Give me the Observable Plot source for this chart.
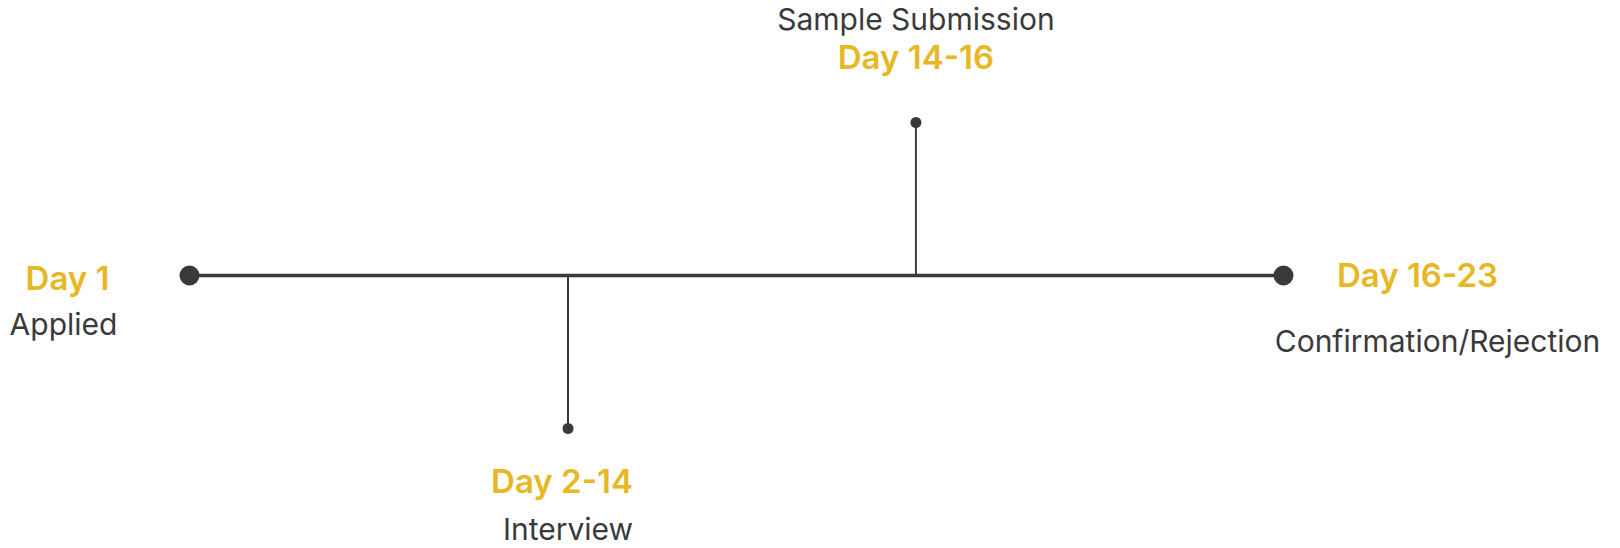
<!DOCTYPE html>
<html>
<head>
<meta charset="utf-8">
<script src="https://cdn.jsdelivr.net/npm/d3@7"></script>
<script src="https://cdn.jsdelivr.net/npm/@observablehq/plot@0.6"></script>
<style>
  html, body { margin: 0; padding: 0; background: #ffffff; }
  #chart svg { display: block; }
</style>
</head>
<body>
<div id="chart"></div>
<script>
// ---- data ----
const stages = ["Applied", "Interview", "Sample Submission", "Confirmation/Rejection"];
const dayLabels = ["Day 1", "Day 2-14", "Day 14-16", "Day 16-23"];
const timelinePos = [0, 34.6, 66.4, 100];   // position along the timeline
const stemSide = [0, -1, 1, 0];             // 0 = on the line, 1 = stem up, -1 = stem down

const data = stages.map((s, i) => ({stage: s, day: dayLabels[i], pos: timelinePos[i], side: stemSide[i]}));

const yellow = "#E7B725";
const dark = "#3a3a3d";
const font = "Inter, 'Open Sans', sans-serif";

const onLine = data.filter(d => d.side === 0);
const stems = data.filter(d => d.side !== 0);
const pick = name => data.filter(d => d.stage === name);

const dayStyle = {fill: yellow, fontSize: 33, fontWeight: 600};
const nameStyle = {fill: dark, fontSize: 30, fontWeight: 400};

const chart = Plot.plot({
  width: 1620,
  height: 548,
  margin: 0,
  x: {domain: [0, 100], range: [189, 1283], axis: null},
  y: {domain: [-1, 1], range: [428, 122], axis: null},
  style: {background: "#ffffff", fontFamily: font},
  marks: [
    Plot.lineY(data, {x: "pos", y: () => 0, stroke: dark, strokeWidth: 3.5}),
    Plot.ruleX(stems, {x: "pos", y1: () => 0, y2: "side", stroke: dark, strokeWidth: 2}),
    Plot.dot(onLine, {x: "pos", y: () => 0, r: 10, fill: dark, stroke: "none"}),
    Plot.dot(stems, {x: "pos", y: "side", r: 5.5, fill: dark, stroke: "none"}),

    // Applied
    Plot.text(pick("Applied"), {x: "pos", y: () => 0, text: "day", dx: -122, dy: 4, ...dayStyle}),
    Plot.text(pick("Applied"), {x: "pos", y: () => 0, text: "stage", dx: -126, dy: 50, ...nameStyle}),
    // Interview
    Plot.text(pick("Interview"), {x: "pos", y: "side", text: "day", dx: -6, dy: 54, ...dayStyle}),
    Plot.text(pick("Interview"), {x: "pos", y: "side", text: "stage", dx: 0, dy: 102, ...nameStyle}),
    // Sample Submission
    Plot.text(pick("Sample Submission"), {x: "pos", y: "side", text: "day", dx: 0, dy: -64, ...dayStyle}),
    Plot.text(pick("Sample Submission"), {x: "pos", y: "side", text: "stage", dx: 0, dy: -102, ...nameStyle}),
    // Confirmation/Rejection
    Plot.text(pick("Confirmation/Rejection"), {x: "pos", y: () => 0, text: "day", dx: 134, dy: 1, ...dayStyle}),
    Plot.text(pick("Confirmation/Rejection"), {x: "pos", y: () => 0, text: "stage", dx: 154, dy: 67, ...nameStyle})
  ]
});

document.getElementById("chart").appendChild(chart);
</script>
</body>
</html>
